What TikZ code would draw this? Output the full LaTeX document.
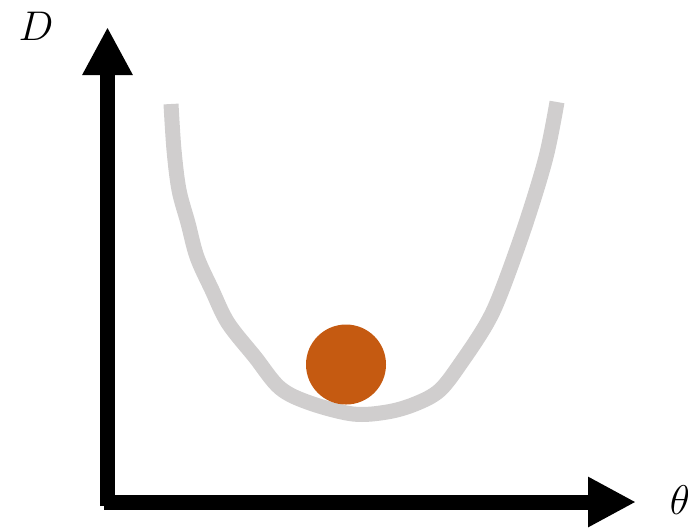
\documentclass[tikz,border=0pt]{standalone}
\usetikzlibrary{arrows.meta}
\definecolor{valleygray}{HTML}{D0CECE}
\definecolor{ballorange}{HTML}{C55A11}
\tikzset{
  axis/.style={line width=7.5pt, -{Triangle[length=24pt,width=23.5pt]}},
  valley/.style={line width=7.5pt, valleygray},
  axislabel/.style={font=\fontsize{20}{24}\selectfont}
}
\begin{document}
\begin{tikzpicture}[x=0.5pt, y=-0.5pt]
    \useasboundingbox (0,0) rectangle (688,527);

    % Axes
    \coordinate (origin) at (107.5,506);
    \coordinate (ytip) at (107.5,27);
    \coordinate (xstart) at (104,502);
    \coordinate (xtip) at (636,502);
    \draw[axis] (origin) -- (ytip);
    \draw[axis] (xstart) -- (xtip);

    \node[axislabel] (dlabel) at (36,26) {$D$};
    \node[axislabel] (thetalabel) at (680,500) {$\theta$};

    % Valley curve
    \draw[valley] plot[smooth, tension=0.55] coordinates {
        (171,104) (174,150) (179,190) (188,223) (197,257) (212,290)
        (228,323) (255,357) (280,388) (310,403) (353,414) (387,412)
        (415,404) (440,390) (463,360) (487,323) (502,290) (526,223)
        (546,157) (557,102)
    };

    % Ball
    \fill[ballorange] (346,364.5) circle[radius=40];
    \node (ball) at (346,364.5) {};
\end{tikzpicture}
\end{document}
